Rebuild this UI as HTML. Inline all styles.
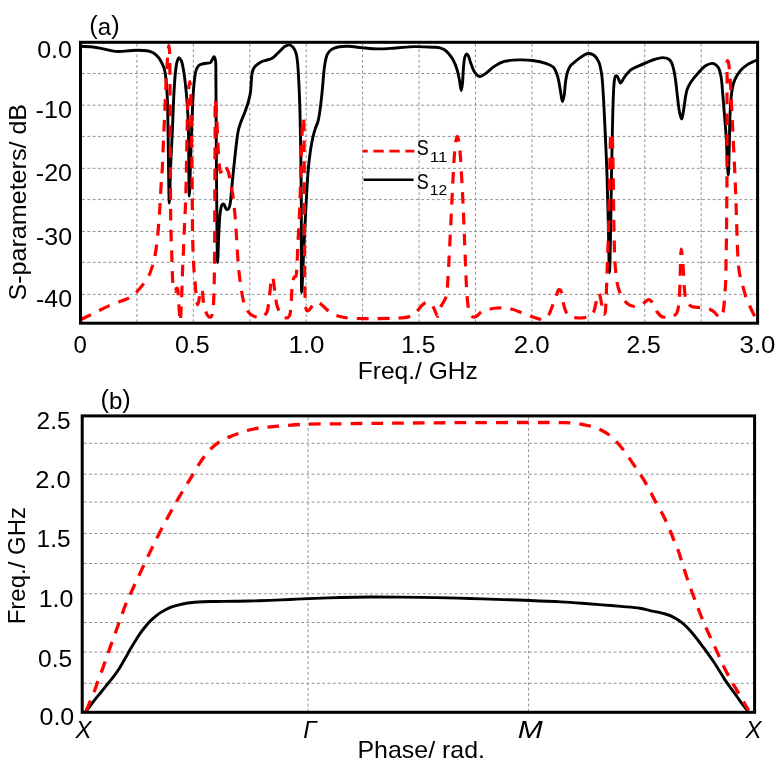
<!DOCTYPE html>
<html><head><meta charset="utf-8"><style>
html,body{margin:0;padding:0;background:#fff;}
body{width:779px;height:768px;overflow:hidden;}
svg{display:block;}
#w{width:779px;height:768px;will-change:transform;}
text{font-family:"Liberation Sans",sans-serif;fill:#000;}
.g{stroke:#929292;stroke-width:1;stroke-dasharray:2.9 2.4;fill:none;}
.frame{fill:none;stroke:#000;stroke-width:3;}
.blk{fill:none;stroke:#000;stroke-width:2.9;stroke-linejoin:round;stroke-linecap:round;}
.red{fill:none;stroke:#ff0000;stroke-width:3.2;stroke-dasharray:11.7 9.1;stroke-linejoin:round;}
.redb{fill:none;stroke:#ff0000;stroke-width:3.3;stroke-dasharray:11.7 9.1;stroke-linejoin:round;}
.legr{stroke:#ff0000;stroke-width:2.8;stroke-dasharray:10.3 5.7;stroke-dashoffset:5.3;}
.legb{stroke:#000;stroke-width:2.4;}
</style></head><body>
<div id="w"><svg width="779" height="768" viewBox="0 0 779 768">
<rect width="779" height="768" fill="#fff"/>
<line x1="82.00" y1="73.50" x2="756.10" y2="73.50" class="g"/>
<line x1="82.00" y1="105.20" x2="756.10" y2="105.20" class="g"/>
<line x1="82.00" y1="136.40" x2="756.10" y2="136.40" class="g"/>
<line x1="82.00" y1="168.30" x2="756.10" y2="168.30" class="g"/>
<line x1="82.00" y1="199.60" x2="756.10" y2="199.60" class="g"/>
<line x1="82.00" y1="231.50" x2="756.10" y2="231.50" class="g"/>
<line x1="82.00" y1="262.30" x2="756.10" y2="262.30" class="g"/>
<line x1="82.00" y1="294.40" x2="756.10" y2="294.40" class="g"/>
<line x1="136.93" y1="43.80" x2="136.93" y2="321.70" class="g"/>
<line x1="193.35" y1="43.80" x2="193.35" y2="321.70" class="g"/>
<line x1="249.78" y1="43.80" x2="249.78" y2="321.70" class="g"/>
<line x1="306.20" y1="43.80" x2="306.20" y2="321.70" class="g"/>
<line x1="362.62" y1="43.80" x2="362.62" y2="321.70" class="g"/>
<line x1="419.05" y1="43.80" x2="419.05" y2="321.70" class="g"/>
<line x1="475.47" y1="43.80" x2="475.47" y2="321.70" class="g"/>
<line x1="531.90" y1="43.80" x2="531.90" y2="321.70" class="g"/>
<line x1="588.33" y1="43.80" x2="588.33" y2="321.70" class="g"/>
<line x1="644.75" y1="43.80" x2="644.75" y2="321.70" class="g"/>
<line x1="701.18" y1="43.80" x2="701.18" y2="321.70" class="g"/>
<line x1="83.70" y1="443.30" x2="753.10" y2="443.30" class="g"/>
<line x1="83.70" y1="474.20" x2="753.10" y2="474.20" class="g"/>
<line x1="83.70" y1="502.10" x2="753.10" y2="502.10" class="g"/>
<line x1="83.70" y1="533.50" x2="753.10" y2="533.50" class="g"/>
<line x1="83.70" y1="563.50" x2="753.10" y2="563.50" class="g"/>
<line x1="83.70" y1="593.75" x2="753.10" y2="593.75" class="g"/>
<line x1="83.70" y1="622.50" x2="753.10" y2="622.50" class="g"/>
<line x1="83.70" y1="652.10" x2="753.10" y2="652.10" class="g"/>
<line x1="83.70" y1="683.30" x2="753.10" y2="683.30" class="g"/>
<line x1="308.10" y1="417.40" x2="308.10" y2="710.80" class="g"/>
<line x1="528.60" y1="417.40" x2="528.60" y2="710.80" class="g"/>
<path d="M80.50,46.30 C80.50,46.30 88.90,46.53 92.80,47.00 C96.40,47.43 99.92,48.26 103.10,48.90 C105.86,49.46 108.22,50.17 110.80,50.60 C113.36,51.03 115.74,51.43 118.50,51.50 C121.68,51.58 125.48,51.02 128.80,50.80 C131.90,50.59 134.80,50.20 137.80,50.20 C140.80,50.20 144.08,50.29 146.80,50.80 C149.14,51.24 151.29,51.72 153.20,52.80 C155.13,53.88 156.83,55.54 158.30,57.30 C159.85,59.15 161.12,61.44 162.20,63.70 C163.30,66.00 164.12,68.13 164.80,71.00 C165.71,74.87 166.07,80.25 166.50,85.00 C166.94,89.91 167.17,94.64 167.40,100.00 C167.66,106.19 167.75,112.00 167.90,120.00 C168.13,132.00 168.25,150.63 168.50,165.00 C168.73,178.20 168.93,203.00 169.30,203.00 C169.67,203.00 170.17,177.40 170.70,165.00 C171.21,153.09 171.90,141.22 172.40,130.00 C172.86,119.62 173.10,109.54 173.60,100.00 C174.05,91.28 174.50,81.97 175.20,75.00 C175.71,69.95 176.07,65.09 177.00,62.00 C177.55,60.16 178.24,57.89 179.00,57.80 C179.66,57.72 180.57,59.23 181.20,60.50 C182.26,62.63 182.83,66.40 183.50,70.00 C184.36,74.62 185.00,80.50 185.60,86.00 C186.24,91.82 186.76,97.76 187.20,104.00 C187.67,110.73 188.00,115.93 188.30,125.00 C188.85,141.67 188.81,195.99 189.30,196.00 C189.65,196.00 190.18,171.92 190.60,160.00 C191.01,148.25 191.38,135.69 191.80,125.00 C192.15,115.97 192.46,107.65 192.90,100.00 C193.28,93.51 193.56,87.38 194.20,82.00 C194.73,77.58 195.13,72.97 196.20,70.00 C196.90,68.06 197.70,66.51 198.80,65.50 C199.71,64.67 200.81,64.36 202.00,64.00 C203.37,63.58 205.14,63.55 206.60,63.30 C207.93,63.08 209.44,63.26 210.40,62.60 C211.33,61.96 211.67,60.49 212.30,59.50 C212.90,58.56 213.59,56.75 214.10,56.80 C214.63,56.85 215.07,58.43 215.40,60.00 C216.19,63.77 215.77,71.83 215.90,80.00 C216.10,92.91 216.08,111.93 216.20,130.00 C216.34,151.38 216.46,177.32 216.70,200.00 C216.93,221.45 217.14,262.59 217.60,262.60 C217.90,262.60 218.23,244.64 218.70,236.00 C219.14,227.79 219.39,217.71 220.30,212.00 C220.81,208.76 221.22,205.54 222.20,204.50 C222.66,204.02 223.35,203.80 223.80,204.00 C224.43,204.28 224.70,206.06 225.20,207.00 C225.67,207.88 226.07,209.26 226.70,209.50 C227.19,209.69 227.93,209.44 228.40,209.00 C229.13,208.32 229.48,206.75 229.90,205.00 C230.64,201.94 230.92,196.56 231.40,192.00 C231.93,186.95 232.35,181.49 232.90,176.00 C233.48,170.17 234.17,163.82 234.80,158.00 C235.40,152.51 235.98,146.83 236.60,142.00 C237.12,137.99 237.48,134.35 238.20,131.00 C238.83,128.10 239.54,125.79 240.50,123.00 C241.59,119.83 243.22,116.43 244.50,113.00 C245.83,109.44 247.28,105.61 248.30,102.00 C249.25,98.62 249.99,95.50 250.50,92.00 C251.06,88.20 251.06,83.59 251.40,80.00 C251.68,77.06 251.67,74.30 252.30,72.00 C252.81,70.12 253.36,68.60 254.50,67.10 C255.84,65.35 258.19,63.55 260.20,62.40 C262.04,61.35 264.18,60.89 266.00,60.30 C267.59,59.78 269.13,59.61 270.50,59.00 C271.78,58.42 272.78,57.75 274.00,56.80 C275.58,55.57 277.28,53.64 279.00,52.00 C280.83,50.25 282.76,47.79 284.70,46.60 C286.24,45.65 287.96,44.72 289.40,44.90 C290.78,45.08 292.15,46.30 293.20,47.50 C294.42,48.89 295.30,50.88 296.00,53.00 C296.85,55.58 297.08,58.41 297.50,62.00 C298.11,67.28 298.42,74.38 298.80,81.70 C299.28,90.91 299.68,101.75 300.00,112.90 C300.37,125.79 300.59,140.40 300.80,154.60 C301.02,169.41 301.16,182.20 301.30,200.00 C301.49,225.40 301.07,292.49 301.70,292.50 C302.08,292.51 302.81,270.00 303.40,258.00 C304.04,244.92 304.75,229.49 305.40,217.00 C305.95,206.50 306.46,196.62 307.00,188.00 C307.43,181.06 307.69,175.62 308.30,169.20 C308.94,162.41 309.85,154.33 310.80,148.30 C311.53,143.64 312.32,139.64 313.20,136.00 C313.92,133.03 314.66,130.56 315.50,128.00 C316.30,125.57 317.37,123.69 318.10,121.00 C319.03,117.53 319.56,113.32 320.20,108.80 C320.99,103.22 321.63,96.58 322.30,90.00 C323.04,82.75 323.57,73.08 324.40,67.10 C324.94,63.20 325.48,59.98 326.20,57.50 C326.68,55.85 326.99,54.77 327.80,53.50 C328.73,52.05 330.11,50.47 331.70,49.40 C333.42,48.25 335.52,47.54 337.90,47.00 C340.88,46.32 344.63,46.15 348.30,46.20 C352.44,46.26 356.82,47.17 361.50,47.60 C366.81,48.08 372.83,48.83 378.50,48.90 C384.16,48.97 389.69,48.37 395.50,48.00 C401.61,47.61 408.02,46.73 414.30,46.60 C420.59,46.47 428.48,46.92 433.20,47.20 C436.04,47.37 438.00,47.28 440.00,47.80 C441.70,48.24 443.11,48.89 444.50,49.80 C445.96,50.76 447.19,52.02 448.50,53.50 C450.09,55.30 451.83,57.50 453.20,60.00 C454.79,62.89 456.14,66.54 457.20,70.00 C458.28,73.54 458.92,77.46 459.60,81.00 C460.23,84.27 460.69,90.50 461.20,90.50 C461.62,90.50 462.06,86.72 462.40,84.00 C462.96,79.51 463.06,71.04 463.60,66.00 C463.99,62.32 464.22,58.59 465.00,56.50 C465.44,55.34 466.00,54.06 466.60,54.00 C467.17,53.95 467.96,55.09 468.50,56.00 C469.27,57.30 469.43,59.29 470.20,61.40 C471.33,64.50 472.94,70.09 474.90,72.70 C476.27,74.54 477.89,76.31 479.60,76.50 C481.35,76.70 483.24,75.01 485.30,73.70 C488.14,71.89 491.44,68.19 494.70,66.10 C497.75,64.14 500.57,62.44 504.20,61.40 C508.53,60.16 514.35,60.03 519.20,59.90 C523.76,59.78 528.10,59.94 532.50,60.50 C536.93,61.07 541.99,61.99 545.70,63.30 C548.63,64.33 551.27,65.13 553.20,67.10 C555.30,69.24 556.36,72.62 557.50,76.00 C558.86,80.07 559.45,85.56 560.30,90.00 C561.07,94.02 561.64,101.45 562.40,101.50 C562.94,101.53 563.64,98.28 564.10,96.00 C564.82,92.47 564.87,86.44 565.50,82.20 C566.04,78.53 566.59,74.84 567.50,72.00 C568.19,69.84 568.97,67.99 570.00,66.50 C570.86,65.26 571.80,64.59 573.00,63.50 C574.61,62.03 576.62,60.14 578.90,58.60 C581.59,56.78 585.47,53.75 588.30,53.50 C590.48,53.31 592.61,54.23 594.30,55.50 C596.19,56.92 597.63,59.37 598.80,62.00 C600.25,65.28 600.88,69.41 601.60,74.00 C602.54,80.00 602.81,87.69 603.30,95.00 C603.83,102.97 604.18,111.43 604.60,120.00 C605.05,129.07 605.50,138.75 605.90,148.00 C606.30,157.08 606.66,164.86 607.00,175.00 C607.44,188.09 607.80,204.42 608.20,220.00 C608.63,236.83 609.07,272.50 609.50,272.50 C609.91,272.50 610.37,241.04 610.70,225.00 C611.04,208.55 611.22,190.74 611.50,175.00 C611.75,160.92 612.01,147.89 612.30,135.00 C612.58,122.94 612.80,109.74 613.20,100.00 C613.48,93.01 613.63,86.33 614.20,82.00 C614.52,79.52 614.64,77.02 615.40,76.20 C615.78,75.79 616.37,75.62 616.80,75.80 C617.49,76.08 618.03,77.85 618.60,79.00 C619.23,80.27 619.71,83.00 620.40,83.10 C620.94,83.18 621.62,81.82 622.20,81.00 C622.90,80.01 623.25,78.84 624.20,77.50 C625.70,75.39 627.99,72.02 630.80,69.90 C634.05,67.45 638.99,65.97 643.00,64.20 C646.82,62.51 650.75,60.62 654.30,59.50 C657.29,58.55 660.25,57.57 662.80,57.60 C664.89,57.62 667.01,58.08 668.50,59.00 C669.82,59.81 670.68,61.01 671.50,62.50 C672.57,64.45 673.14,67.18 673.80,70.00 C674.63,73.51 675.20,77.70 675.80,82.00 C676.49,86.94 676.93,92.71 677.60,98.00 C678.26,103.21 678.88,109.65 679.80,113.50 C680.36,115.86 681.12,119.13 681.70,119.10 C682.42,119.06 683.01,113.31 683.60,110.00 C684.30,106.06 684.80,100.80 685.50,97.00 C686.06,94.00 686.39,91.49 687.30,89.00 C688.18,86.61 689.27,84.65 690.80,82.30 C692.74,79.32 695.82,75.66 698.40,72.80 C700.73,70.21 702.92,67.38 705.50,65.80 C707.77,64.42 710.63,63.06 712.80,63.40 C714.82,63.71 716.86,65.43 718.20,67.30 C719.80,69.55 720.28,72.87 721.00,76.50 C722.00,81.50 722.23,88.35 722.80,94.70 C723.43,101.66 724.01,109.15 724.60,116.60 C725.21,124.34 725.93,132.40 726.40,140.30 C726.87,148.20 727.00,157.60 727.40,164.00 C727.67,168.36 728.04,175.01 728.30,175.00 C728.69,174.99 728.92,159.15 729.20,150.00 C729.54,138.87 729.53,123.73 730.10,113.00 C730.54,104.71 730.91,97.03 731.90,91.00 C732.60,86.70 733.20,83.47 734.60,80.10 C735.96,76.82 737.90,73.62 740.10,71.00 C742.20,68.49 744.85,66.30 747.40,64.60 C749.74,63.04 752.81,61.86 754.70,61.00 C755.88,60.47 757.60,59.80 757.60,59.80" class="blk"/>
<path d="M80.50,319.80 C80.50,319.80 86.89,316.62 90.80,314.70 C95.97,312.16 103.22,308.34 108.80,305.90 C113.49,303.85 118.34,302.22 122.00,300.80 C124.61,299.79 126.76,299.21 128.70,298.20 C130.35,297.34 131.74,296.26 133.00,295.30 C134.06,294.49 134.69,294.01 135.80,292.90 C137.79,290.91 141.22,286.98 143.50,283.90 C145.66,280.98 147.68,277.98 149.20,274.90 C150.64,271.98 151.55,269.02 152.50,265.90 C153.50,262.63 154.29,259.32 155.00,255.70 C155.79,251.67 156.37,247.10 156.90,242.80 C157.43,238.53 157.78,234.74 158.20,230.00 C158.72,224.08 159.25,216.90 159.70,210.00 C160.19,202.60 160.54,194.30 161.00,187.00 C161.41,180.36 161.91,174.95 162.30,168.00 C162.77,159.57 163.12,148.55 163.50,140.00 C163.82,132.77 164.10,126.67 164.40,120.00 C164.70,113.33 165.01,106.49 165.30,100.00 C165.58,93.84 165.79,88.08 166.10,82.00 C166.42,75.75 166.81,68.73 167.20,63.00 C167.52,58.26 167.86,53.21 168.20,50.00 C168.40,48.11 168.58,45.50 168.80,45.50 C169.02,45.50 169.32,47.96 169.50,50.00 C169.87,54.28 169.80,62.66 169.90,70.00 C170.02,78.99 170.04,88.73 170.10,100.00 C170.18,114.55 170.22,132.57 170.30,150.00 C170.39,169.09 170.41,194.12 170.60,210.00 C170.73,220.45 170.88,228.38 171.10,236.00 C171.27,241.98 171.53,246.84 171.70,252.00 C171.86,256.82 171.94,261.27 172.10,266.00 C172.27,270.87 172.40,276.45 172.70,280.80 C172.94,284.23 172.83,288.30 173.60,290.00 C173.96,290.80 174.56,291.57 175.00,291.50 C175.59,291.41 176.03,288.44 176.60,288.20 C176.89,288.08 177.26,288.19 177.50,288.50 C178.19,289.36 177.96,293.11 178.20,296.00 C178.52,299.94 178.83,305.56 179.20,310.00 C179.54,314.02 180.00,321.50 180.30,321.50 C180.59,321.50 180.80,314.54 181.00,311.00 C181.20,307.38 181.34,303.75 181.50,300.00 C181.67,296.09 181.84,292.48 182.00,288.00 C182.21,282.29 182.35,274.91 182.60,268.50 C182.85,262.25 183.20,256.57 183.50,250.00 C183.84,242.52 184.16,233.53 184.50,226.00 C184.80,219.30 185.13,213.89 185.40,207.00 C185.72,198.79 185.96,190.14 186.20,180.00 C186.51,166.91 186.70,148.48 187.00,135.00 C187.24,123.99 187.46,113.59 187.80,105.00 C188.06,98.53 188.22,92.32 188.70,88.00 C189.00,85.31 189.48,81.49 189.80,81.50 C190.12,81.51 190.39,85.09 190.60,88.00 C191.03,93.92 191.02,104.86 191.20,115.00 C191.43,128.09 191.62,145.00 191.80,160.00 C191.98,175.00 192.14,190.94 192.30,205.00 C192.44,217.40 192.45,229.68 192.70,240.00 C192.90,248.18 193.18,255.83 193.50,262.00 C193.74,266.48 194.00,269.75 194.30,273.60 C194.60,277.42 194.97,281.15 195.30,285.00 C195.64,288.95 195.86,293.44 196.30,297.00 C196.66,299.89 197.09,304.76 197.60,304.80 C197.96,304.83 198.45,302.52 198.80,301.00 C199.30,298.84 199.47,295.14 200.00,293.00 C200.37,291.51 200.85,289.34 201.30,289.30 C201.62,289.27 202.02,290.15 202.30,291.00 C202.92,292.91 202.81,297.87 203.30,301.00 C203.74,303.83 204.36,306.73 205.00,309.00 C205.49,310.73 205.90,312.14 206.60,313.50 C207.26,314.79 208.08,316.59 209.00,317.00 C209.67,317.30 210.62,317.22 211.20,316.70 C212.23,315.78 212.47,312.70 212.90,310.00 C213.53,306.02 213.66,300.64 213.90,295.00 C214.21,287.73 214.27,279.31 214.40,270.00 C214.56,258.23 214.62,244.08 214.70,230.00 C214.79,214.26 214.83,196.67 214.90,180.00 C214.97,163.33 215.02,144.68 215.10,130.00 C215.16,118.44 214.94,99.02 215.30,99.00 C215.43,98.99 215.64,101.31 215.80,103.00 C216.08,105.93 216.35,110.49 216.60,115.00 C216.92,120.82 217.19,128.60 217.50,135.00 C217.79,140.90 218.06,146.61 218.40,152.00 C218.70,156.89 218.92,162.23 219.40,166.00 C219.73,168.59 220.00,172.41 220.60,172.50 C221.03,172.57 221.69,170.60 222.20,169.50 C222.79,168.23 223.16,165.76 223.90,165.30 C224.31,165.04 224.90,165.13 225.30,165.40 C225.87,165.78 226.14,167.02 226.60,168.00 C227.19,169.25 227.97,170.54 228.50,172.30 C229.27,174.85 229.56,178.67 230.20,182.00 C230.88,185.56 231.83,188.92 232.50,193.00 C233.32,198.04 233.91,203.96 234.50,210.00 C235.17,216.86 235.69,224.58 236.20,232.00 C236.72,239.58 237.09,247.91 237.60,255.00 C238.04,261.10 238.41,266.52 239.00,272.00 C239.56,277.16 240.29,282.28 241.00,287.00 C241.63,291.23 242.12,295.26 243.00,299.00 C243.79,302.38 244.44,305.83 245.90,308.50 C247.19,310.85 249.07,312.95 250.90,314.40 C252.48,315.65 254.23,316.43 256.00,317.00 C257.73,317.55 259.91,318.17 261.40,317.80 C262.65,317.49 263.58,316.46 264.50,315.50 C265.51,314.44 266.41,313.34 267.10,311.60 C268.18,308.87 268.47,304.02 269.00,300.20 C269.53,296.38 269.86,292.48 270.30,288.70 C270.73,285.02 270.81,279.31 271.60,277.80 C271.86,277.30 272.24,276.92 272.50,277.00 C272.98,277.15 273.17,279.22 273.50,281.00 C274.14,284.44 274.69,291.72 275.40,296.30 C275.98,300.05 276.22,303.28 277.30,306.50 C278.37,309.67 279.86,313.58 281.80,315.50 C283.25,316.94 285.52,318.20 286.90,318.00 C288.01,317.84 288.96,316.71 289.60,315.50 C290.53,313.77 290.50,310.55 290.80,308.00 C291.11,305.38 291.22,302.94 291.40,300.00 C291.62,296.41 291.63,291.65 292.00,288.00 C292.31,284.91 292.68,281.51 293.30,279.50 C293.67,278.31 294.06,277.28 294.60,276.80 C294.95,276.49 295.48,276.78 295.80,276.40 C296.52,275.54 296.46,272.47 296.70,270.00 C297.02,266.63 297.09,262.40 297.30,258.00 C297.55,252.61 297.79,246.16 298.10,240.00 C298.42,233.51 298.86,227.34 299.20,220.00 C299.61,211.01 299.96,200.39 300.30,190.00 C300.67,178.78 300.94,165.91 301.30,155.00 C301.61,145.42 301.88,134.91 302.30,128.00 C302.56,123.68 302.90,117.51 303.20,117.50 C303.40,117.50 303.65,119.85 303.80,122.00 C304.18,127.34 304.02,139.32 304.10,150.00 C304.20,164.27 304.23,183.33 304.30,200.00 C304.37,216.67 304.41,234.48 304.50,250.00 C304.58,263.53 304.55,278.56 304.80,288.00 C304.95,293.61 305.02,297.37 305.40,301.40 C305.71,304.73 305.63,309.57 306.70,310.50 C307.17,310.91 307.88,310.79 308.50,310.50 C309.55,310.01 310.59,307.84 311.80,306.50 C313.13,305.04 314.67,302.47 316.20,302.10 C317.43,301.80 318.61,302.50 320.00,303.30 C322.25,304.60 325.06,308.42 327.70,310.40 C330.08,312.18 332.52,313.68 335.00,314.80 C337.30,315.84 339.57,316.44 342.00,317.00 C344.56,317.59 346.72,317.92 350.00,318.20 C355.15,318.64 363.06,318.57 370.00,318.60 C377.52,318.63 386.55,318.67 393.50,318.30 C399.07,318.01 404.92,317.99 408.50,316.90 C410.70,316.23 412.05,315.17 413.50,314.20 C414.76,313.36 415.72,312.58 416.80,311.50 C418.06,310.24 419.30,308.32 420.50,307.00 C421.52,305.87 422.44,304.80 423.50,304.00 C424.45,303.27 425.54,302.47 426.50,302.30 C427.29,302.16 428.05,302.39 428.80,302.70 C429.66,303.06 430.55,303.75 431.30,304.50 C432.13,305.32 432.79,306.26 433.50,307.50 C434.48,309.21 435.48,312.38 436.30,314.00 C436.81,315.01 437.28,316.44 437.70,316.40 C438.21,316.35 438.58,313.89 439.00,312.50 C439.48,310.94 439.77,309.04 440.40,307.50 C440.99,306.06 441.82,304.91 442.60,303.50 C443.47,301.92 444.69,300.33 445.40,298.50 C446.16,296.52 446.48,294.78 446.90,292.00 C447.62,287.18 447.87,278.83 448.30,272.00 C448.75,264.84 449.06,258.53 449.50,250.00 C450.12,238.13 450.95,220.63 451.60,207.40 C452.17,195.86 452.68,184.50 453.20,175.00 C453.61,167.53 453.92,160.95 454.40,155.00 C454.78,150.20 455.05,145.41 455.70,142.00 C456.14,139.72 456.76,136.41 457.30,136.40 C457.79,136.39 458.38,139.02 458.80,141.00 C459.52,144.37 459.85,149.66 460.30,155.00 C460.90,162.13 461.33,171.47 461.80,180.00 C462.30,188.92 462.72,196.92 463.20,207.40 C463.84,221.50 464.63,243.11 465.20,257.00 C465.62,267.05 465.89,275.25 466.30,283.00 C466.64,289.27 466.81,294.78 467.40,300.00 C467.90,304.50 468.27,309.57 469.40,312.50 C470.09,314.30 470.94,315.80 472.00,316.50 C472.82,317.04 473.88,317.16 474.80,317.00 C475.81,316.83 476.81,316.05 477.80,315.30 C478.98,314.40 479.81,312.73 481.30,311.80 C483.08,310.69 485.59,310.12 488.00,309.50 C490.69,308.81 493.82,308.19 496.70,308.00 C499.49,307.81 502.34,308.07 505.00,308.30 C507.49,308.52 509.62,308.65 512.20,309.30 C515.37,310.09 519.06,311.82 522.50,313.10 C525.96,314.39 529.75,315.92 532.90,317.00 C535.48,317.88 538.08,318.85 540.00,319.20 C541.26,319.43 542.16,319.64 543.20,319.40 C544.33,319.13 545.53,318.35 546.50,317.50 C547.55,316.58 548.39,315.41 549.20,314.00 C550.21,312.22 550.90,309.73 551.80,307.50 C552.76,305.14 553.88,302.66 554.80,300.20 C555.71,297.76 556.49,294.74 557.30,292.80 C557.85,291.49 558.22,289.86 558.90,289.60 C559.39,289.42 560.14,289.79 560.60,290.30 C561.35,291.13 561.55,293.13 562.00,295.00 C562.64,297.70 563.02,301.93 563.80,305.00 C564.49,307.71 565.23,310.60 566.30,312.50 C567.08,313.88 567.96,314.89 569.00,315.70 C569.98,316.46 570.85,316.92 572.30,317.30 C574.74,317.94 579.73,318.11 582.60,317.90 C584.70,317.75 586.50,317.28 588.00,316.80 C589.14,316.43 590.01,316.20 590.90,315.50 C591.99,314.64 593.06,313.23 593.80,311.70 C594.69,309.85 594.97,307.17 595.50,305.00 C596.00,302.95 596.33,300.95 596.90,299.00 C597.46,297.08 598.28,293.40 598.90,293.40 C599.43,293.40 599.98,295.96 600.40,297.50 C600.92,299.40 601.24,301.79 601.60,304.00 C601.97,306.29 602.19,309.08 602.60,311.00 C602.89,312.38 603.10,314.38 603.60,314.50 C603.97,314.59 604.64,313.78 605.00,313.00 C605.70,311.45 605.58,308.17 605.80,305.00 C606.12,300.39 606.27,293.88 606.50,288.00 C606.74,281.68 606.96,274.82 607.20,268.30 C607.43,261.88 607.68,255.58 607.90,249.20 C608.12,242.81 608.31,237.56 608.50,230.00 C608.78,219.09 609.02,202.89 609.30,190.00 C609.56,177.94 609.74,165.25 610.10,155.00 C610.38,146.96 610.16,136.00 611.10,133.50 C611.33,132.89 611.68,132.43 611.90,132.50 C612.59,132.72 612.40,139.78 612.60,145.00 C612.93,153.73 613.10,167.94 613.30,180.00 C613.51,192.89 613.62,208.95 613.80,220.00 C613.93,227.81 614.02,233.18 614.20,240.00 C614.39,247.13 614.53,255.83 614.90,261.90 C615.16,266.23 615.56,269.59 615.90,273.00 C616.19,275.91 616.28,278.26 616.80,281.10 C617.39,284.32 618.25,288.19 619.40,291.30 C620.44,294.11 621.52,296.70 623.20,299.00 C624.91,301.34 627.27,303.97 629.60,305.20 C631.59,306.25 633.99,306.55 636.00,306.50 C637.80,306.46 639.59,305.96 641.10,305.20 C642.58,304.45 643.69,302.96 645.00,302.00 C646.22,301.10 647.56,299.59 648.70,299.60 C649.70,299.61 650.64,300.66 651.50,301.50 C652.53,302.50 653.43,303.88 654.30,305.40 C655.36,307.27 655.93,310.10 657.20,312.00 C658.38,313.76 660.01,315.63 661.50,316.50 C662.63,317.16 663.77,317.16 665.00,317.40 C666.33,317.67 667.86,318.16 669.20,318.00 C670.52,317.84 671.80,317.25 673.00,316.50 C674.35,315.65 675.88,314.54 676.80,313.00 C677.89,311.18 678.17,308.43 678.60,306.00 C679.05,303.44 679.19,301.20 679.40,298.00 C679.72,293.20 679.80,286.00 680.00,280.00 C680.20,274.00 680.38,267.49 680.60,262.00 C680.79,257.37 680.86,249.22 681.20,249.20 C681.41,249.19 681.75,252.07 682.00,254.00 C682.37,256.91 682.71,261.18 683.00,265.00 C683.32,269.15 683.55,273.75 683.80,278.00 C684.04,282.08 684.13,286.29 684.50,290.00 C684.83,293.22 684.99,296.47 685.80,299.00 C686.45,301.03 687.29,302.88 688.50,304.20 C689.61,305.41 691.01,306.24 692.60,306.80 C694.43,307.44 696.90,307.32 699.00,307.50 C701.03,307.68 703.01,307.50 705.00,307.90 C707.08,308.31 709.55,309.19 711.20,310.00 C712.43,310.60 713.27,311.18 714.20,312.00 C715.21,312.89 715.97,314.23 717.00,315.20 C718.03,316.17 719.47,317.99 720.40,317.80 C721.34,317.61 722.04,315.56 722.60,314.00 C723.36,311.88 723.54,309.00 723.90,306.00 C724.35,302.20 724.60,297.03 724.90,293.00 C725.16,289.50 725.42,287.16 725.60,283.20 C725.88,277.11 725.96,268.12 726.10,260.00 C726.26,251.04 726.39,241.40 726.50,231.70 C726.62,221.43 726.72,210.42 726.80,200.00 C726.88,189.86 726.96,181.27 727.00,170.00 C727.05,155.45 726.98,135.74 727.00,120.00 C727.02,105.92 727.00,90.96 727.10,80.00 C727.17,72.34 726.55,60.79 727.40,60.50 C727.62,60.43 727.97,60.98 728.20,61.50 C728.70,62.63 728.90,65.06 729.20,67.50 C729.66,71.28 729.97,77.12 730.30,82.00 C730.64,86.96 730.90,91.36 731.20,97.00 C731.59,104.27 731.99,113.48 732.40,122.00 C732.83,130.92 733.27,140.28 733.70,149.40 C734.13,158.51 734.60,167.52 735.00,176.70 C735.40,186.05 735.78,195.70 736.10,205.00 C736.41,214.03 736.61,223.10 736.90,231.70 C737.18,239.73 737.39,248.09 737.80,255.00 C738.13,260.55 738.38,265.52 739.00,270.00 C739.51,273.69 740.22,276.82 741.00,280.00 C741.73,282.97 742.66,285.62 743.50,288.50 C744.36,291.48 745.08,294.75 746.10,297.60 C747.04,300.23 748.24,302.62 749.30,305.00 C750.30,307.24 751.27,309.39 752.30,311.50 C753.30,313.55 754.48,315.86 755.40,317.50 C756.06,318.68 757.20,320.50 757.20,320.50" class="red"/>
<path d="M86.00,711.30 C86.00,711.30 89.04,707.51 90.50,705.60 C91.94,703.71 93.20,701.84 94.70,699.90 C96.32,697.81 98.17,695.63 99.90,693.50 C101.63,691.37 103.41,689.18 105.10,687.10 C106.71,685.12 108.24,683.24 109.80,681.30 C111.37,679.34 113.04,677.34 114.50,675.40 C115.86,673.58 117.09,671.85 118.30,670.00 C119.53,668.12 120.59,666.24 121.80,664.20 C123.14,661.93 124.62,659.42 126.00,657.00 C127.39,654.56 128.63,652.14 130.10,649.60 C131.71,646.83 133.55,643.81 135.30,641.00 C137.02,638.25 138.71,635.43 140.50,632.90 C142.18,630.52 143.93,628.32 145.70,626.20 C147.40,624.17 149.11,622.17 150.90,620.40 C152.59,618.72 154.33,617.21 156.10,615.80 C157.80,614.45 159.54,613.22 161.30,612.10 C163.00,611.02 164.74,610.07 166.50,609.20 C168.24,608.34 169.87,607.60 171.80,606.90 C173.99,606.11 176.58,605.40 179.00,604.80 C181.41,604.20 183.78,603.71 186.30,603.30 C188.97,602.87 191.82,602.57 194.60,602.30 C197.39,602.03 200.05,601.83 203.00,601.70 C206.28,601.55 209.93,601.55 213.40,601.50 C216.87,601.45 220.06,601.44 223.80,601.40 C228.17,601.35 233.13,601.28 238.00,601.20 C243.17,601.12 248.67,601.03 254.00,600.90 C259.33,600.77 264.37,600.61 270.00,600.40 C276.30,600.16 283.47,599.81 290.00,599.50 C296.26,599.21 301.44,598.89 308.40,598.60 C317.52,598.22 329.59,597.77 340.00,597.50 C350.15,597.24 360.08,597.07 370.10,597.00 C380.08,596.93 389.51,597.01 400.00,597.10 C411.65,597.20 424.93,597.36 436.90,597.60 C448.23,597.83 458.93,598.17 470.00,598.50 C481.16,598.83 493.07,599.25 503.60,599.60 C512.93,599.91 520.85,600.14 530.00,600.50 C539.92,600.89 551.67,601.38 561.00,601.90 C568.68,602.33 575.08,602.79 582.00,603.30 C588.77,603.80 595.50,604.38 602.10,604.90 C608.50,605.41 614.69,605.85 621.00,606.40 C627.33,606.95 634.70,607.32 640.00,608.20 C643.89,608.85 646.66,609.87 650.00,610.60 C653.33,611.33 657.18,611.95 660.00,612.60 C662.08,613.08 663.61,613.45 665.40,614.00 C667.21,614.55 669.03,615.12 670.80,615.90 C672.63,616.71 674.42,617.73 676.20,618.80 C678.03,619.90 679.85,621.03 681.60,622.40 C683.46,623.85 685.24,625.55 687.00,627.30 C688.84,629.14 690.64,631.13 692.40,633.20 C694.24,635.36 696.02,637.69 697.80,640.00 C699.62,642.35 701.41,644.78 703.20,647.20 C705.01,649.64 706.81,652.10 708.60,654.60 C710.41,657.13 712.23,659.65 714.00,662.30 C715.83,665.04 717.61,667.94 719.40,670.80 C721.21,673.70 722.96,676.79 724.80,679.60 C726.56,682.28 728.39,684.77 730.20,687.30 C731.99,689.80 733.81,692.21 735.60,694.70 C737.41,697.21 739.08,699.73 741.00,702.30 C743.04,705.03 747.50,710.60 747.50,710.60" class="blk"/>
<path d="M86.00,711.30 C86.00,711.30 88.29,705.87 89.50,703.00 C90.81,699.89 92.27,696.71 93.60,693.30 C95.05,689.58 96.38,685.37 97.80,681.50 C99.18,677.74 100.66,674.05 102.00,670.40 C103.29,666.88 104.48,663.47 105.70,660.00 C106.92,656.54 108.04,653.16 109.30,649.60 C110.63,645.83 112.11,641.84 113.50,638.00 C114.87,634.21 116.23,630.50 117.60,626.70 C118.99,622.84 120.40,618.86 121.80,615.00 C123.17,611.22 124.46,607.33 125.90,603.80 C127.23,600.53 128.69,597.57 130.10,594.50 C131.49,591.47 132.88,588.56 134.30,585.50 C135.78,582.33 137.27,579.07 138.80,575.80 C140.37,572.44 141.91,569.19 143.60,565.60 C145.49,561.60 147.72,556.81 149.60,552.90 C151.22,549.53 152.66,546.62 154.20,543.50 C155.73,540.39 157.21,537.31 158.80,534.20 C160.41,531.04 162.14,527.84 163.80,524.70 C165.44,521.61 167.04,518.56 168.70,515.50 C170.37,512.43 172.09,509.32 173.80,506.30 C175.49,503.33 177.17,500.45 178.90,497.50 C180.67,494.49 182.47,491.40 184.30,488.40 C186.11,485.43 188.01,482.54 189.80,479.60 C191.58,476.68 193.23,473.72 195.00,470.80 C196.77,467.88 198.50,464.96 200.40,462.10 C202.33,459.20 204.27,456.17 206.50,453.50 C208.70,450.87 211.12,448.38 213.70,446.20 C216.23,444.06 218.88,442.17 221.80,440.50 C224.86,438.75 228.43,437.34 231.70,436.00 C234.82,434.72 237.81,433.67 241.00,432.60 C244.31,431.49 247.72,430.31 251.20,429.50 C254.72,428.67 258.92,428.08 262.00,427.70 C264.29,427.41 265.75,427.41 268.00,427.20 C270.91,426.93 274.39,426.54 278.00,426.20 C282.27,425.80 287.15,425.34 292.00,425.00 C297.25,424.63 302.04,424.30 308.40,424.10 C317.22,423.82 329.59,423.92 340.00,423.80 C350.16,423.68 360.08,423.52 370.10,423.40 C380.08,423.28 389.51,423.20 400.00,423.10 C411.65,422.99 424.12,422.88 436.90,422.80 C450.71,422.71 465.10,422.65 480.00,422.60 C496.05,422.55 515.32,422.49 530.00,422.50 C541.56,422.51 552.52,422.39 561.00,422.60 C566.90,422.75 571.13,422.71 576.00,423.30 C580.72,423.87 585.76,424.96 589.80,426.00 C593.06,426.84 595.74,427.63 598.50,428.80 C601.20,429.94 603.82,431.36 606.20,432.90 C608.47,434.37 610.49,435.99 612.50,437.80 C614.59,439.68 616.53,441.77 618.50,444.00 C620.63,446.41 622.77,449.10 624.80,451.80 C626.87,454.56 628.79,457.49 630.80,460.40 C632.86,463.38 634.94,466.43 637.00,469.50 C639.08,472.60 641.18,475.60 643.20,478.90 C645.35,482.41 647.46,486.25 649.50,490.00 C651.56,493.78 653.36,497.53 655.50,501.50 C657.83,505.83 660.87,510.86 663.00,515.00 C664.75,518.41 666.08,521.32 667.50,524.50 C668.91,527.65 670.23,530.87 671.50,534.00 C672.73,537.03 673.82,540.10 675.00,543.00 C676.12,545.75 677.34,548.16 678.40,551.00 C679.56,554.12 680.40,557.23 681.60,561.00 C683.17,565.92 685.15,572.51 687.00,578.00 C688.76,583.22 690.58,588.22 692.40,593.20 C694.18,598.05 695.99,602.78 697.80,607.50 C699.59,612.15 701.35,616.86 703.20,621.30 C704.96,625.51 706.78,629.50 708.60,633.50 C710.38,637.40 712.22,641.12 714.00,645.00 C715.82,648.95 717.59,653.02 719.40,657.00 C721.19,660.95 722.94,665.06 724.80,668.80 C726.54,672.30 728.38,675.53 730.20,678.80 C731.98,681.99 733.71,684.96 735.60,688.20 C737.63,691.68 739.87,695.33 742.00,699.00 C744.20,702.79 748.60,710.60 748.60,710.60" class="redb"/>
<rect x="80.50" y="42.30" width="677.10" height="280.90" class="frame"/>
<rect x="82.20" y="415.90" width="672.40" height="296.40" class="frame"/>
<line x1="362.7" y1="151.1" x2="414.3" y2="151.1" class="legr"/>
<line x1="363.5" y1="179.8" x2="413.6" y2="179.8" class="legb"/>
<text x="89.30" y="34.90" font-size="24.00" text-anchor="start" ><tspan font-size="25.4" dy="-0.9">(</tspan><tspan dy="0.9">a</tspan><tspan font-size="25.4" dy="-0.9">)</tspan></text>
<text x="72.00" y="58.10" font-size="24.00" text-anchor="end" textLength="34.80" lengthAdjust="spacingAndGlyphs" >0.0</text>
<text x="72.00" y="117.80" font-size="24.00" text-anchor="end" textLength="36.40" lengthAdjust="spacingAndGlyphs" >-10</text>
<text x="72.00" y="180.70" font-size="24.00" text-anchor="end" textLength="36.20" lengthAdjust="spacingAndGlyphs" >-20</text>
<text x="72.00" y="244.50" font-size="24.00" text-anchor="end" textLength="36.00" lengthAdjust="spacingAndGlyphs" >-30</text>
<text x="72.00" y="307.40" font-size="24.00" text-anchor="end" textLength="36.00" lengthAdjust="spacingAndGlyphs" >-40</text>
<text x="80.20" y="353.20" font-size="24.00" text-anchor="middle" >0</text>
<text x="192.30" y="353.20" font-size="24.00" text-anchor="middle" textLength="34.80" lengthAdjust="spacingAndGlyphs" >0.5</text>
<text x="306.50" y="353.20" font-size="24.00" text-anchor="middle" textLength="36.00" lengthAdjust="spacingAndGlyphs" >1.0</text>
<text x="418.20" y="353.20" font-size="24.00" text-anchor="middle" textLength="34.50" lengthAdjust="spacingAndGlyphs" >1.5</text>
<text x="531.70" y="353.20" font-size="24.00" text-anchor="middle" textLength="36.00" lengthAdjust="spacingAndGlyphs" >2.0</text>
<text x="643.60" y="353.20" font-size="24.00" text-anchor="middle" textLength="34.40" lengthAdjust="spacingAndGlyphs" >2.5</text>
<text x="757.40" y="353.20" font-size="24.00" text-anchor="middle" textLength="35.90" lengthAdjust="spacingAndGlyphs" >3.0</text>
<text x="417.80" y="378.80" font-size="24.00" text-anchor="middle" textLength="120.00" lengthAdjust="spacingAndGlyphs" >Freq./ GHz</text>
<text transform="translate(26.1,202.2) rotate(-90)" font-size="24.00" text-anchor="middle" textLength="196.6" lengthAdjust="spacingAndGlyphs">S-parameters/ dB</text>
<text x="100.50" y="409.30" font-size="24.00" text-anchor="start" ><tspan font-size="25.4" dy="-0.9">(</tspan><tspan dy="0.9">b</tspan><tspan font-size="25.4" dy="-0.9">)</tspan></text>
<text x="70.60" y="429.20" font-size="24.00" text-anchor="end" textLength="34.00" lengthAdjust="spacingAndGlyphs" >2.5</text>
<text x="70.60" y="487.50" font-size="24.00" text-anchor="end" textLength="35.40" lengthAdjust="spacingAndGlyphs" >2.0</text>
<text x="70.60" y="546.90" font-size="24.00" text-anchor="end" textLength="34.00" lengthAdjust="spacingAndGlyphs" >1.5</text>
<text x="73.40" y="606.90" font-size="24.00" text-anchor="end" textLength="34.70" lengthAdjust="spacingAndGlyphs" >1.0</text>
<text x="72.20" y="667.30" font-size="24.00" text-anchor="end" textLength="34.20" lengthAdjust="spacingAndGlyphs" >0.5</text>
<text x="74.30" y="725.20" font-size="24.00" text-anchor="end" textLength="34.80" lengthAdjust="spacingAndGlyphs" >0.0</text>
<text transform="translate(24.9,565.7) rotate(-90)" font-size="24.00" text-anchor="middle">Freq./ GHz</text>
<text x="83.40" y="737.70" font-size="24.00" text-anchor="middle" font-style="italic">X</text>
<text x="310.20" y="737.70" font-size="24.00" text-anchor="middle" font-style="italic">&#915;</text>
<text x="530.20" y="737.70" font-size="24.00" text-anchor="middle" textLength="25.00" lengthAdjust="spacingAndGlyphs" font-style="italic">M</text>
<text x="753.40" y="737.70" font-size="24.00" text-anchor="middle" font-style="italic">X</text>
<text x="421.20" y="758.40" font-size="24.00" text-anchor="middle" textLength="127.60" lengthAdjust="spacingAndGlyphs" >Phase/ rad.</text>
<text x="416.80" y="155.40" font-size="21.50" text-anchor="start" textLength="12.00" lengthAdjust="spacingAndGlyphs" >S</text>
<text x="429.80" y="162.00" font-size="14.50" text-anchor="start" textLength="17.50" lengthAdjust="spacingAndGlyphs" >11</text>
<text x="416.80" y="189.30" font-size="21.50" text-anchor="start" textLength="12.00" lengthAdjust="spacingAndGlyphs" >S</text>
<text x="429.80" y="194.70" font-size="14.50" text-anchor="start" textLength="17.50" lengthAdjust="spacingAndGlyphs" >12</text>
</svg></div>
</body></html>
